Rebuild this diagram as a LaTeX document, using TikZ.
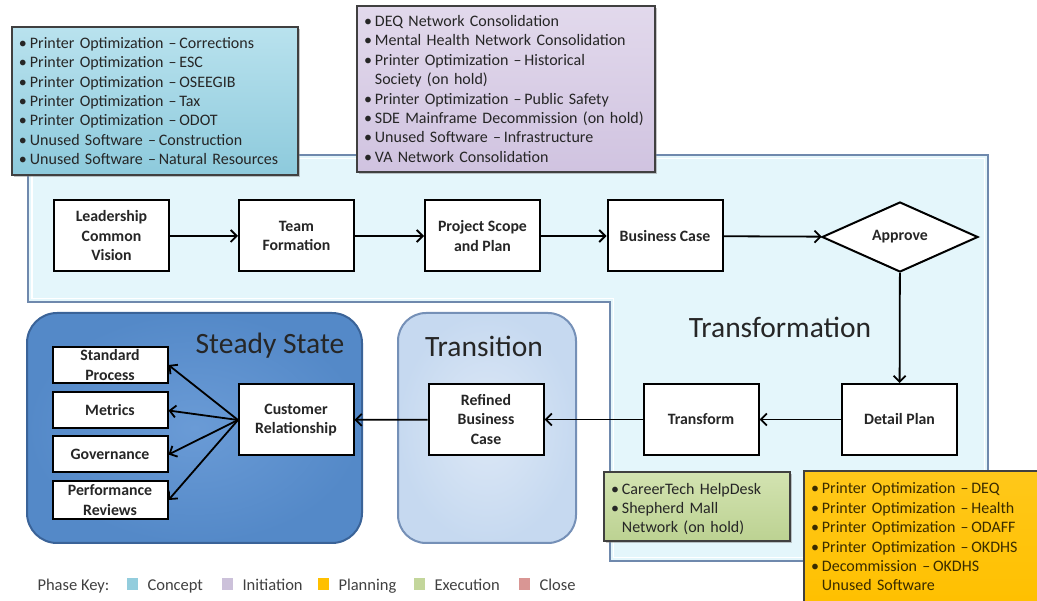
\documentclass[tikz,border=0pt]{standalone}
\usepackage{fontspec}
\setmainfont{Carlito}
\usetikzlibrary{arrows.meta,shadows,shapes.geometric}
\definecolor{regfill}{HTML}{E4F6FB}
\definecolor{regline}{HTML}{6F89AD}
\definecolor{conceptT}{HTML}{B9E2EE}
\definecolor{conceptB}{HTML}{8DCADC}
\definecolor{initT}{HTML}{E2D9EC}
\definecolor{initB}{HTML}{D0C3E0}
\definecolor{execT}{HTML}{D3E3B1}
\definecolor{execB}{HTML}{BCD292}
\definecolor{planT}{HTML}{FFC81A}
\definecolor{planB}{HTML}{FFC000}
\definecolor{ssfill}{HTML}{5489C8}
\definecolor{ssinner}{HTML}{6A9BD6}
\definecolor{ssline}{HTML}{3A6398}
\definecolor{trfill}{HTML}{C6D9F0}
\definecolor{trline}{HTML}{7590B7}
\definecolor{txt}{HTML}{262626}
\definecolor{plantxt}{HTML}{3A2C00}
\definecolor{keyconcept}{HTML}{93CDDD}
\definecolor{keyinit}{HTML}{CCC1DA}
\definecolor{keyplan}{HTML}{FFC000}
\definecolor{keyexec}{HTML}{C3D69B}
\definecolor{keyclose}{HTML}{D99694}
\tikzset{
  flowbox/.style={draw=black, line width=2pt, fill=white, minimum width=115pt,
    minimum height=71pt, align=center, inner sep=2pt,
    font=\bfseries\fontsize{15.8}{19.5}\selectfont, text=txt},
  smallbox/.style={flowbox, minimum height=36pt},
  listbox/.style={draw=black!75, line width=1.2pt, align=left, inner xsep=7pt,
    inner ysep=2pt, font=\fontsize{16}{19.4}\selectfont, text=txt,
    drop shadow={opacity=0.45, shadow xshift=2pt, shadow yshift=-2pt}},
  listtext/.style={align=left, inner xsep=7pt, inner ysep=2pt,
    font=\fontsize{16}{19.4}\selectfont, text=txt},
  flowarrow/.style={draw=black, line width=1.8pt, -{Straight Barb[length=6pt,width=12pt,line width=1.8pt]}},
  phase/.style={font=\fontsize{29.5}{34}\selectfont, text=txt},
  keytext/.style={font=\fontsize{16.5}{19}\selectfont, text=black!75, anchor=base west},
  keysq/.style={minimum width=11pt, minimum height=12pt, inner sep=0pt},
}
\newcommand{\bl}{•\hspace{3pt}}
\newcommand{\ind}{\phantom{•}\hspace{3pt}}
\begin{document}
\begin{tikzpicture}[x=1pt,y=-1pt]
\useasboundingbox (0,0) rectangle (1037,601);

% Transformation region
\draw[fill=regfill, draw=regline, line width=2.5pt]
  (28,155) -- (988,155) -- (988,561) -- (610,561) -- (610,302) -- (28,302) -- cycle;
\draw[white, line width=1.2pt]
  (32,158.5) -- (984.5,158.5) -- (984.5,557.5) -- (613.5,557.5) -- (613.5,298.5) -- (32,298.5) -- cycle;

% Steady State and Transition containers
\draw[inner color=ssinner, outer color=ssfill, draw=ssline, line width=2pt, rounded corners=30pt] (27,313) rectangle (362,543);
\draw[inner color=trfill!60!white, outer color=trfill, draw=trline, line width=2pt, rounded corners=28pt] (398,313) rectangle (576,543);
\node[phase] (tss) at (270,346) {Steady State};
\node[phase] (ttr) at (484,346) {Transition};
\node[phase] (ttf) at (780,327) {Transformation};

% Top flow
\node[flowbox] (lead) at (111.5,236) {Leadership\\Common\\Vision};
\node[flowbox] (team) at (296.5,236) {Team\\Formation};
\node[flowbox] (scope) at (482.5,236) {Project Scope\\and Plan};
\node[flowbox] (bcase) at (665,236) {Business Case};
\node[draw=black, line width=2pt, fill=white, diamond, aspect=2.2, inner sep=1pt,
  minimum width=156pt, minimum height=70pt,
  font=\bfseries\fontsize{15.8}{19.5}\selectfont, text=txt] (approve) at (900,237) {Approve};

% Lower flow
\node[flowbox] (detail) at (899.5,419.5) {Detail Plan};
\node[flowbox] (transform) at (701,419.5) {Transform};
\node[flowbox] (refined) at (486,419.5) {Refined\\Business\\Case};
\node[flowbox] (cust) at (296,420) {Customer\\Relationship};
\node[smallbox] (std) at (110,365) {Standard\\Process};
\node[smallbox] (metrics) at (110,410.5) {Metrics};
\node[smallbox] (gov) at (110,454.5) {Governance};
\node[smallbox, minimum height=38pt] (perf) at (110,500) {Performance\\Reviews};

% Arrows
\draw[flowarrow] (lead) -- (team);
\draw[flowarrow] (team) -- (scope);
\draw[flowarrow] (scope) -- (bcase);
\draw[flowarrow] (bcase) -- (approve);
\draw[flowarrow] (approve) -- (detail);
\draw[flowarrow] (detail) -- (transform);
\draw[flowarrow] (transform) -- (refined);
\draw[flowarrow] (refined) -- (cust);
\coordinate (cw) at (238,420);
\draw[flowarrow] (cw) -- (std.east);
\draw[flowarrow] (cw) -- (metrics.east);
\draw[flowarrow] (cw) -- (gov.east);
\draw[flowarrow] (cw) -- (perf.east);

% Phase lists
\node[listbox, top color=conceptT, bottom color=conceptB, minimum width=286pt,
  minimum height=148pt, text width=272pt] (concept) at (155,101)
  {\bl Printer Optimization –\,Corrections\\
   \bl Printer Optimization –\,ESC\\
   \bl Printer Optimization –\,OSEEGIB\\
   \bl Printer Optimization –\,Tax\\
   \bl Printer Optimization –\,ODOT\\
   \bl Unused Software –\,Construction\\
   \bl Unused Software –\,Natural Resources};
\node[listbox, top color=initT, bottom color=initB, minimum width=296pt,
  minimum height=166pt, text width=284pt] (init) at (506,89)
  {\bl DEQ Network Consolidation\\
   \bl Mental Health Network Consolidation\\
   \bl Printer Optimization –\,Historical\\
   \ind Society (on hold)\\
   \bl Printer Optimization –\,Public Safety\\
   \bl SDE Mainframe Decommission (on hold)\\
   \bl Unused Software –\,Infrastructure\\
   \bl VA Network Consolidation};
\node[listbox, top color=execT, bottom color=execB, minimum width=186pt,
  minimum height=69pt] (exec) at (697,506.5) {};
\node[listtext, text width=172pt] (exectxt) at (697,509)
  {\bl CareerTech HelpDesk\\
   \bl Shepherd Mall\\
   \ind Network (on hold)};
\node[listbox, top color=planT, bottom color=planB, minimum width=236pt,
  minimum height=132pt, text width=222pt, text=plantxt] (plan) at (922,537)
  {\bl Printer Optimization –\,DEQ\\
   \bl Printer Optimization –\,Health\\
   \bl Printer Optimization –\,ODAFF\\
   \bl Printer Optimization –\,OKDHS\\
   \bl Decommission –\,OKDHS\\
   \ind Unused Software};

% Phase key
\node[keytext] (pk) at (34,590.5) {Phase Key:};
\node[keysq, fill=keyconcept] (k1) at (132,583.5) {};
\node[keytext] (k1t) at (144,590.5) {Concept};
\node[keysq, fill=keyinit] (k2) at (227,583.5) {};
\node[keytext] (k2t) at (239,590.5) {Initiation};
\node[keysq, fill=keyplan] (k3) at (323,583.5) {};
\node[keytext] (k3t) at (335,590.5) {Planning};
\node[keysq, fill=keyexec] (k4) at (419,583.5) {};
\node[keytext] (k4t) at (431,590.5) {Execution};
\node[keysq, fill=keyclose] (k5) at (524,583.5) {};
\node[keytext] (k5t) at (536,590.5) {Close};
\end{tikzpicture}
\end{document}
